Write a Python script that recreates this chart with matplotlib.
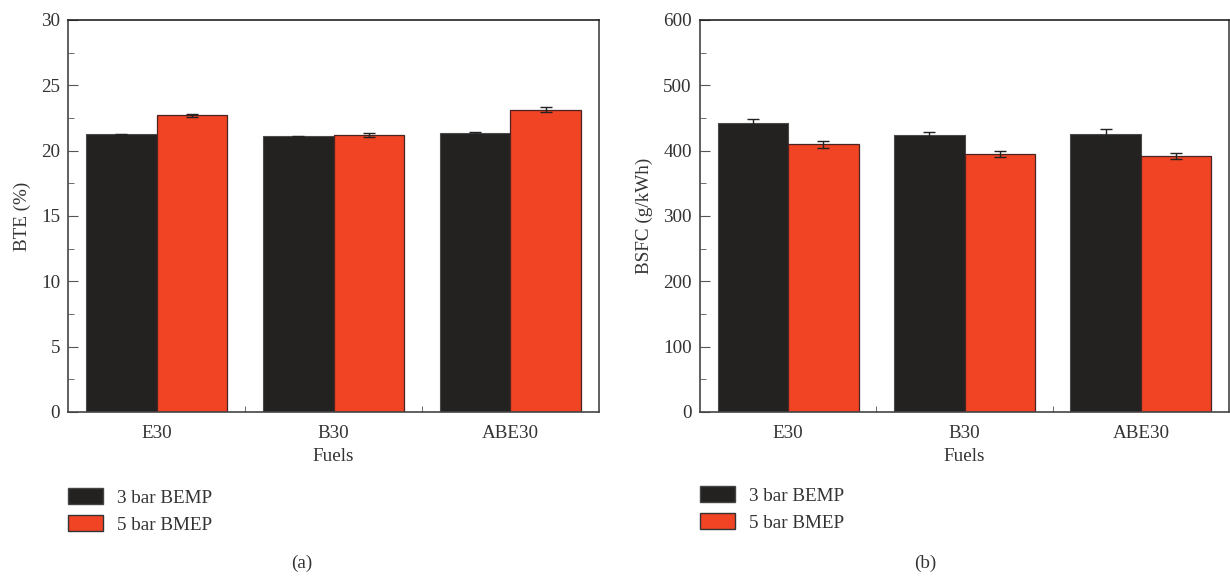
import numpy as np
import matplotlib.pyplot as plt
from matplotlib.patches import Patch
from matplotlib.ticker import MultipleLocator

fuels = ["E30", "B30", "ABE30"]

bte_3bar = [21.25, 21.1, 21.35]
bte_5bar = [22.7, 21.2, 23.15]
bte_3bar_err = [0.05, 0.05, 0.07]
bte_5bar_err = [0.09, 0.15, 0.18]

bsfc_3bar = [443, 424, 425]
bsfc_5bar = [410, 395, 392]
bsfc_3bar_err = [6, 4.5, 8]
bsfc_5bar_err = [5.5, 4, 4.3]

labels = ["3 bar BEMP", "5 bar BMEP"]
c_black = "#232220"
c_red = "#f04424"

plt.rcParams["font.family"] = ["Liberation Serif", "DejaVu Serif"]
plt.rcParams["font.size"] = 13.8

fig = plt.figure(figsize=(12.3, 5.78), dpi=100)
ax1 = fig.add_axes([68.3 / 1230, 166 / 578, 530.4 / 1230, 392 / 578])
ax2 = fig.add_axes([700 / 1230, 166 / 578, 529 / 1230, 392 / 578])

x = np.arange(1, len(fuels) + 1)
w = 0.40


def draw(ax, v3, v5, e3, e5, ymax, major, ylabel):
    ax.bar(x - w / 2, v3, w, color=c_black, edgecolor="#4a4a48", linewidth=0.8,
           yerr=e3, capsize=4, error_kw=dict(ecolor="#222", elinewidth=1, capthick=1))
    ax.bar(x + w / 2, v5, w, color=c_red, edgecolor="#4a2420", linewidth=0.9,
           yerr=e5, capsize=4, error_kw=dict(ecolor="#222", elinewidth=1, capthick=1))
    ax.set_xlim(0.5, 3.5)
    ax.set_ylim(0, ymax)
    ax.set_xticks(x)
    ax.set_xticklabels(fuels)
    ax.xaxis.set_minor_locator(plt.FixedLocator([1.5, 2.5]))
    ax.yaxis.set_major_locator(MultipleLocator(major))
    ax.yaxis.set_minor_locator(MultipleLocator(major / 2))
    ax.tick_params(axis="x", which="major", length=0, pad=9, colors="#333")
    ax.tick_params(axis="x", which="minor", direction="in", length=4, color="#555")
    ax.tick_params(axis="y", which="major", direction="in", length=7, color="#555",
                   labelcolor="#333", pad=6)
    ax.tick_params(axis="y", which="minor", direction="in", length=4, color="#555")
    for s in ax.spines.values():
        s.set_linewidth(1.2)
        s.set_color("#444")
    ax.spines["top"].set_color("#222")
    ax.set_xlabel("Fuels", color="#333", labelpad=5)
    ax.set_ylabel(ylabel, color="#333", labelpad=7)


draw(ax1, bte_3bar, bte_5bar, bte_3bar_err, bte_5bar_err, 30, 5, "BTE (%)")
draw(ax2, bsfc_3bar, bsfc_5bar, bsfc_3bar_err, bsfc_5bar_err, 600, 100, "BSFC (g/kWh)")

handles = [Patch(facecolor=c_black, edgecolor="#444"),
           Patch(facecolor=c_red, edgecolor="#333")]
for xl, yt in [(68, 488), (700, 486)]:
    fig.legend(handles, labels, loc="upper left", bbox_to_anchor=(xl / 1230, 1 - yt / 578),
               frameon=False, borderpad=0, borderaxespad=0, handlelength=1.85,
               handleheight=0.9, handletextpad=0.7, labelspacing=0.45,
               labelcolor="#333")

fig.text(302 / 1230, 1 - 563 / 578, "(a)", ha="center", va="center", color="#333")
fig.text(925 / 1230, 1 - 563 / 578, "(b)", ha="center", va="center", color="#333")

fig.savefig("out.png", dpi=100)
